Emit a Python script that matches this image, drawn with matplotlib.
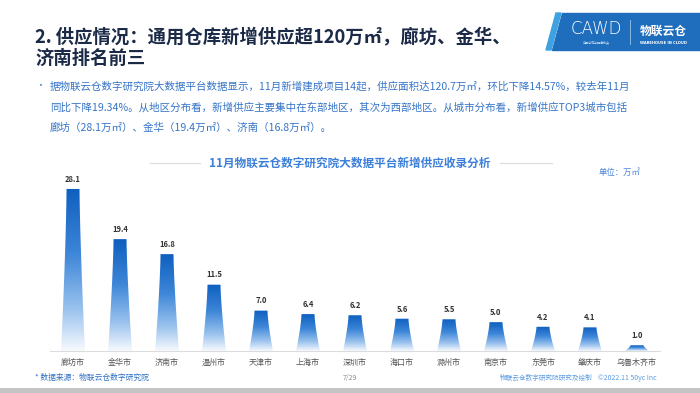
import numpy as np
import matplotlib.pyplot as plt
from matplotlib.colors import LinearSegmentedColormap
from matplotlib.patches import Polygon

plt.rcParams['font.family'] = ['Noto Sans CJK SC', 'DejaVu Sans']

# data (unit: 万㎡)
cities = ['廊坊市', '金华市', '济南市', '温州市', '天津市', '上海市', '深圳市',
          '海口市', '滁州市', '南京市', '东莞市', '肇庆市', '乌鲁木齐市']
supply = [28.1, 19.4, 16.8, 11.5, 7.0, 6.4, 6.2, 5.6, 5.5, 5.0, 4.2, 4.1, 1.0]

title_l1 = '2. 供应情况：通用仓库新增供应超120万㎡，廊坊、金华、'
title_l2 = '济南排名前三'
body = ['据物联云仓数字研究院大数据平台数据显示，11月新增建成项目14起，供应面积达120.7万㎡，环比下降14.57%，较去年11月',
        '同比下降19.34%。从地区分布看，新增供应主要集中在东部地区，其次为西部地区。从城市分布看，新增供应TOP3城市包括',
        '廊坊（28.1万㎡）、金华（19.4万㎡）、济南（16.8万㎡）。']
chart_title = '11月物联云仓数字研究院大数据平台新增供应收录分析'

W, H = 700, 393
fig = plt.figure(figsize=(7, 3.93), dpi=100)
bg = fig.add_axes([0, 0, 1, 1])
bg.set_xlim(0, W)
bg.set_ylim(H, 0)
bg.axis('off')

# header
bg.text(35, 37, title_l1, fontsize=13.2, fontweight='bold', color='#1b2a47', va='center')
bg.text(35, 58, title_l2, fontsize=13.2, fontweight='bold', color='#1b2a47', va='center')

# logo block
bg.add_patch(Polygon([[562, 13], [700, 13], [700, 50], [552, 50]], closed=True,
                     color='#1f6dbd', zorder=1))
bg.add_patch(Polygon([[556, 13], [561, 13], [551, 50], [546, 50]], closed=True,
                     color='#3fa2e0', zorder=1))
bg.text(596, 29, 'CAWD', fontsize=12, color='white', ha='center', va='center',
        family='DejaVu Sans', fontweight='light')
bg.text(596, 42, '中国仓储与配送协会', fontsize=2.2, color='#cfe3f7', ha='center', va='center')
bg.plot([630, 630], [20, 44], color='#9cc4ea', lw=0.6)
bg.text(663, 31, '物联云仓', fontsize=8.5, color='white', fontweight='bold', ha='center', va='center')
bg.text(663, 43, 'WAREHOUSE IN CLOUD', fontsize=2.6, color='white', ha='center', va='center',
        family='DejaVu Sans', fontweight='bold')

# bullet paragraph
bg.text(35, 86, '•', fontsize=7, color='#5b8fd6', va='center')
for i, line in enumerate(body):
    bg.text(50, 86 + i * 21, line, fontsize=7.55, color='#3574c8', va='center')

# chart title with side rules
bg.text(350, 163, chart_title, fontsize=8.4, fontweight='bold', color='#3b7fd9',
        ha='center', va='center')
bg.plot([150, 200], [163, 163], color='#dcdcdc', lw=0.8)
bg.plot([500, 552], [163, 163], color='#dcdcdc', lw=0.8)
bg.text(640, 172, '单位：万㎡', fontsize=6, color='#4a86d8', ha='right', va='center')

# footer
bg.text(35, 378, '* 数据来源：物联云仓数字研究院', fontsize=5.6, color='#2f6fc4',
        style='italic', va='center')
bg.text(350, 378, '7/29', fontsize=5, color='#8a8a8a', ha='center', va='center')
bg.text(500, 378, '物联云仓数字研究院研究及绘制', fontsize=4.8, color='#5b9be0', va='center')
bg.text(598, 378, '©2022.11 50yc Inc', fontsize=5, color='#5b9be0', va='center')
bg.add_patch(plt.Rectangle((0, 388), W, 5, color='#c4c4c4', lw=0))

# bar chart
ax = fig.add_axes([50 / W, 42 / H, 610 / W, 173 / H])
n = len(cities)
for s in ['top', 'right', 'left']:
    ax.spines[s].set_visible(False)
ax.spines['bottom'].set_color('#dcdcdc')
ax.spines['bottom'].set_linewidth(0.8)
ax.set_yticks([])
ax.set_xticks(range(n))
ax.set_xticklabels(cities, fontsize=5.8, color='#555555')
ax.tick_params(axis='x', length=0, pad=5)

cmap = LinearSegmentedColormap.from_list(
    'fade', [(0, '#f7fafe'), (0.25, '#9cc3ee'), (0.6, '#3d86d8'), (1, '#0e5fbf')])
grad = np.linspace(0, 1, 256).reshape(-1, 1)
ht, hb = 0.138, 0.255
for i, v in enumerate(supply):
    ts = np.linspace(0, 1, 20)
    half = ht + (hb - ht) * (1 - ts) ** 1.4
    left = np.column_stack([i - half, ts * v])
    right = np.column_stack([i + half, ts * v])[::-1]
    poly = Polygon(np.vstack([left, right]), closed=True, facecolor='none', edgecolor='none')
    ax.add_patch(poly)
    im = ax.imshow(grad, cmap=cmap, origin='lower', aspect='auto',
                   extent=[i - hb, i + hb, 0, v], zorder=2)
    im.set_clip_path(poly)
    ax.text(i, v + 0.9, f'{v:.1f}', fontsize=5.5, fontweight='bold', color='#333333',
            ha='center', va='bottom')

ax.set_xlim(-0.49, n - 0.51)
ax.set_ylim(0, 30)

fig.savefig('out.png', dpi=100)
